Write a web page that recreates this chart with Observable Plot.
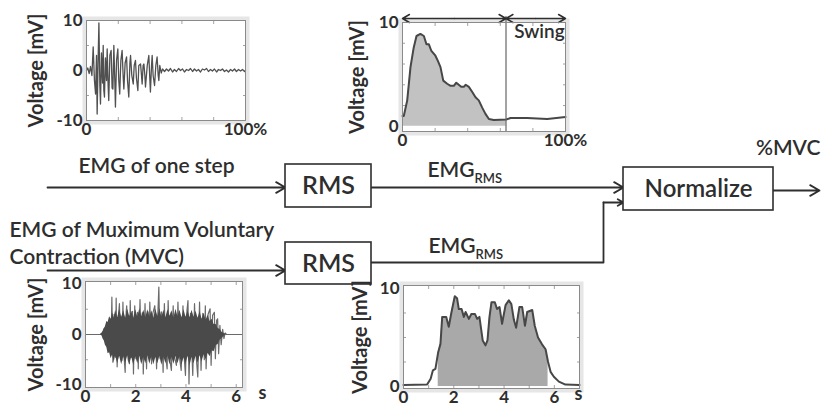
<!DOCTYPE html>
<html><head><meta charset="utf-8">
<script src="https://cdn.jsdelivr.net/npm/d3@7"></script>
<script src="https://cdn.jsdelivr.net/npm/@observablehq/plot@0.6"></script>
<style>
body{margin:0;background:#fff;}
#wrap{position:relative;width:821px;height:410px;overflow:hidden;background:#fff;}
#wrap svg{position:absolute;left:0;top:0;overflow:visible;background:transparent;font-family:Lato,"Open Sans",sans-serif;font-weight:700;color:#2b2b2b;}
</style></head><body><div id="wrap"></div>
<script>
// ---------- DATA ----------
// Raw EMG of one step: [gait cycle %, mV]
const stepEmg = [[0,0],[0.8,0.5],[1.7,-0.6],[2.5,0.8],[3.4,-1.0],[4.2,4.7],[5.0,-2.0],[5.7,-4.7],[6.3,3.0],[6.7,-8.7],[7.3,2.0],[7.8,9.5],[8.4,-3.0],[8.8,-6.7],[9.4,3.5],[10.1,-2.5],[10.5,5.0],[10.9,-4.0],[11.3,-5.3],[11.9,2.5],[12.6,-2.0],[13.0,4.3],[13.6,-3.0],[14.0,-6.0],[14.7,3.0],[15.5,4.0],[16.1,-3.5],[16.6,-3.7],[17.2,5.0],[17.8,-2.0],[18.2,-7.3],[18.9,2.0],[19.7,4.3],[20.3,-2.0],[20.9,-4.7],[21.6,2.0],[22.4,4.0],[23.1,-1.5],[23.5,-3.7],[24.3,1.5],[25.2,2.7],[25.8,-2.0],[26.6,-5.3],[27.3,1.5],[27.7,3.0],[28.5,-1.0],[29.4,-2.7],[30.0,1.0],[30.8,2.0],[31.4,-1.5],[32.3,-4.0],[32.9,1.0],[34.0,1.3],[34.6,-1.0],[35.0,-2.7],[35.6,1.0],[36.1,1.3],[36.7,-1.0],[37.1,-3.3],[38.2,1.0],[39.2,3.0],[39.8,-1.5],[40.2,-4.3],[40.9,1.0],[41.3,3.0],[41.9,-1.0],[42.8,-3.0],[43.6,1.0],[44.4,2.7],[45.1,-1.0],[45.5,-2.0],[46.1,1.0],[47.0,-0.5],[47.8,0.3],[49.1,-0.2],[50.3,0.3],[51.6,-0.1],[52.8,0.4],[54.1,-0.3],[55.3,0.2],[56.6,-0.2],[57.9,0.4],[59.1,0.0],[60.4,0.3],[61.6,-0.3],[62.9,0.2],[64.2,0.0],[65.4,0.4],[66.7,-0.2],[67.9,0.3],[69.2,-0.1],[70.4,0.2],[71.7,-0.3],[72.9,0.3],[74.2,0.1],[75.5,0.4],[76.7,-0.2],[78.0,0.2],[79.2,-0.1],[80.5,0.3],[81.8,-0.3],[83.0,0.2],[84.3,0.0],[85.5,0.3],[86.8,-0.2],[88.0,0.1],[89.3,-0.3],[90.6,0.2],[91.8,-0.1],[93.1,0.3],[94.3,-0.2],[95.6,0.2],[96.9,-0.1],[98.1,0.2],[99.4,-0.2],[100,0]];

// RMS EMG of one step: [gait cycle %, mV]
const stepRms = [[0,1.0],[0.8,1.0],[2.9,2.5],[4.9,5.7],[6.9,7.6],[8.6,8.7],[11.0,8.9],[13.1,8.7],[14.7,7.9],[16.2,7.9],[17.6,7.3],[20.2,6.8],[21.7,6.3],[23.3,5.7],[25.0,4.4],[27.4,4.1],[29.5,3.9],[31.5,3.9],[33.0,4.2],[34.5,4.0],[36.0,3.8],[37.6,3.8],[38.8,4.0],[40.7,3.8],[42.8,3.3],[44.8,2.8],[46.8,2.5],[48.9,1.8],[50.9,1.2],[53.0,0.7],[56.0,0.6],[63.6,0.65],[66.3,0.8],[76.5,0.8],[88.8,0.7],[100,0.9]];
const stanceEnd = 63.5;

// Raw EMG of MVC: dense burst envelope [s, low mV, high mV] and spikes [s, mV]
const mvcCore = [[0.59,0,0],[0.66,-0.3,0.3],[0.70,-0.9,0.6],[0.75,-1.3,1.2],[0.79,-2.1,1.5],[0.85,-2.6,2.6],[0.90,-3.8,2.4],[0.96,-3.6,3.5],[1.02,-4.8,3.0],[1.08,-4.0,4.3],[1.14,-5.6,3.2],[1.20,-4.2,4.8],[1.28,-5.8,3.3],[1.36,-4.3,4.9],[1.44,-6.0,3.4],[1.52,-4.4,4.7],[1.60,-5.7,3.2],[1.68,-4.2,5.0],[1.76,-5.9,3.5],[1.84,-4.5,4.6],[1.92,-6.1,3.2],[2.00,-4.4,4.9],[2.08,-5.8,3.4],[2.16,-4.3,5.1],[2.24,-6.0,3.5],[2.32,-4.5,4.8],[2.40,-5.8,3.3],[2.48,-4.2,4.9],[2.56,-5.9,3.5],[2.64,-4.4,4.7],[2.72,-6.0,3.2],[2.80,-4.5,5.0],[2.88,-5.8,3.5],[2.96,-4.3,5.1],[3.04,-6.1,3.4],[3.12,-4.4,4.8],[3.20,-5.8,3.3],[3.28,-4.2,4.9],[3.36,-6.0,3.6],[3.44,-4.5,4.7],[3.52,-5.9,3.2],[3.60,-4.3,5.0],[3.68,-5.8,3.5],[3.76,-4.4,4.8],[3.84,-6.1,3.3],[3.92,-4.6,4.9],[4.00,-5.9,3.4],[4.08,-4.3,4.7],[4.16,-6.2,3.3],[4.24,-4.5,4.8],[4.32,-5.8,3.4],[4.40,-4.3,4.6],[4.48,-5.7,3.2],[4.56,-4.2,4.5],[4.64,-5.4,3.0],[4.72,-4.0,4.2],[4.80,-5.0,2.8],[4.88,-3.7,3.8],[4.96,-4.4,2.6],[5.04,-3.2,3.0],[5.12,-3.4,2.0],[5.20,-2.2,2.0],[5.28,-2.0,1.2],[5.36,-1.1,1.0],[5.44,-0.8,0.4],[5.52,-0.3,0.2],[5.62,0,0]];
const mvcRaw = [[0,0],[0.59,0],[0.66,0],[0.75,1.2],[0.80,-1.5],[0.85,2.2],[0.91,-3.0],[0.96,3.0],[1.01,-4.0],[1.05,7.4],[1.09,-5.5],[1.14,4.0],[1.20,-4.5],[1.22,7.2],[1.26,-6.4],[1.32,4.2],[1.35,6.1],[1.41,-4.5],[1.45,-5.2],[1.49,6.4],[1.53,-4.0],[1.58,-7.5],[1.62,4.5],[1.64,5.7],[1.70,-5.0],[1.75,-5.8],[1.78,6.7],[1.83,-4.5],[1.87,4.6],[1.91,-7.8],[1.96,5.7],[2.01,-4.8],[2.07,4.4],[2.10,-6.8],[2.17,6.9],[2.22,-4.6],[2.26,4.3],[2.30,-7.8],[2.37,6.1],[2.43,-6.8],[2.49,4.5],[2.52,-4.4],[2.56,6.4],[2.63,-5.8],[2.68,4.2],[2.76,5.7],[2.83,-6.8],[2.88,4.0],[2.92,9.4],[2.97,-4.8],[3.02,4.5],[3.09,-7.5],[3.14,6.1],[3.20,-4.6],[3.25,-6.8],[3.29,6.7],[3.35,-4.7],[3.42,-7.1],[3.49,5.7],[3.55,-4.6],[3.62,-6.1],[3.68,6.4],[3.75,-4.8],[3.81,-7.1],[3.88,5.7],[3.93,-4.5],[3.98,-8.1],[4.04,4.8],[4.08,6.7],[4.12,-9.8],[4.18,4.2],[4.27,-8.1],[4.34,6.1],[4.41,-4.6],[4.47,-8.4],[4.54,6.4],[4.60,-7.1],[4.67,4.2],[4.73,-5.0],[4.77,5.7],[4.80,-6.8],[4.88,4.0],[4.96,5.1],[5.00,-6.1],[5.06,3.8],[5.13,4.4],[5.17,-4.8],[5.22,2.8],[5.26,3.1],[5.30,-3.8],[5.35,1.8],[5.40,-2.0],[5.46,1.0],[5.51,-0.8],[5.56,0.3],[5.61,0],[6.25,0]];

// RMS EMG of MVC: [s, mV]
const mvcRms = [[0,0.15],[0.94,0.2],[1.08,0.8],[1.17,1.65],[1.27,1.8],[1.38,3.5],[1.47,4.35],[1.54,7.1],[1.70,7.1],[1.80,6.1],[1.91,7.6],[2.04,9.2],[2.13,9.0],[2.20,7.9],[2.31,7.9],[2.40,7.1],[2.47,7.6],[2.60,6.9],[2.70,7.4],[2.84,7.4],[2.93,6.9],[3.02,7.1],[3.15,4.7],[3.26,4.2],[3.34,4.7],[3.42,7.1],[3.50,8.6],[3.63,8.6],[3.72,7.9],[3.82,8.1],[3.92,6.4],[4.06,8.3],[4.19,8.8],[4.29,8.4],[4.39,6.8],[4.48,6.0],[4.61,8.1],[4.72,8.1],[4.83,6.2],[4.92,7.6],[5.12,7.8],[5.22,6.2],[5.35,5.0],[5.51,4.3],[5.65,3.8],[5.75,2.5],[5.85,1.5],[5.98,1.0],[6.18,0.5],[6.44,0.2],[7.0,0.15]];

// Tick labels
const pctTicks = [0, 100];
const secTicks = [0, 2, 4, 6];
const mvTicksRaw = [-10, 0, 10];
const mvTicksRms = [0, 10];
const yLabel = "Voltage [mV]";

// Diagram texts
const boxLabels = ["RMS", "RMS", "Normalize"];
const centerLabels = ["EMG of one step"];
const leftLabels = ["EMG of Muximum Voluntary", "Contraction (MVC)"];
const rightLabels = ["%MVC"];
const rmsLabel = "EMG_RMS";

// ---------- LAYOUT (page pixels) ----------
const W = 821, H = 410;
const boxPos = [
  {x1:285, x2:371, y1:164, y2:207, size:25},
  {x1:285, x2:371, y1:242, y2:284, size:25},
  {x1:623, x2:773, y1:167, y2:210, size:24}
];
const arrowPos = [
  {x1:47, y1:187, x2:285, y2:187},
  {x1:371, y1:187, x2:623, y2:187},
  {x1:47, y1:270, x2:285, y2:270},
  {x1:603, y1:202, x2:623, y2:202},
  {x1:773, y1:190, x2:819, y2:190}
];
const elbowPos = [[371,262],[603,262],[603,202]];
const centerPos = [{x:156, y:166}];
const leftPos = [{x:9, y:230}, {x:9, y:257}];
const rightPos = [{x:820, y:148}];
const rmsLabelPos = [{x:427, y:170}, {x:428, y:246}];

const wrap = document.getElementById("wrap");
const ink = "#2e2e2e";
const withPos = (labels, pos) => labels.map((label, i) => ({label, ...pos[i]}));

// ---------- Diagram ----------
const boxes = withPos(boxLabels, boxPos);
const txt = {fontSize: 21, fill: ink, fontWeight: 600};
const diagram = Plot.plot({
  width: W, height: H, margin: 0,
  x: {domain: [0, W], range: [0, W], axis: null},
  y: {domain: [0, H], range: [0, H], axis: null},
  marks: [
    Plot.line(elbowPos, {x: d => d[0], y: d => d[1], stroke: ink, strokeWidth: 1.8}),
    Plot.arrow(arrowPos, {x1: "x1", y1: "y1", x2: "x2", y2: "y2", stroke: ink, strokeWidth: 1.8, headLength: 9}),
    Plot.rect(boxes, {x1: "x1", x2: "x2", y1: "y1", y2: "y2", fill: "white", stroke: ink, strokeWidth: 1.6}),
    Plot.text(boxes, {x: d => (d.x1 + d.x2) / 2, y: d => (d.y1 + d.y2) / 2, text: "label", fontSize: d => d.size, fill: ink, fontWeight: 600}),
    Plot.text(withPos(centerLabels, centerPos), {x: "x", y: "y", text: "label", textAnchor: "middle", ...txt}),
    Plot.text(withPos(leftLabels, leftPos), {x: "x", y: "y", text: "label", textAnchor: "start", ...txt}),
    Plot.text(withPos(rightLabels, rightPos), {x: "x", y: "y", text: "label", textAnchor: "end", ...txt}),
    Plot.text(rmsLabelPos, {x: "x", y: "y", text: () => rmsLabel, textAnchor: "start", ...txt})
  ]
});
wrap.appendChild(diagram);
d3.select(diagram).selectAll("text").each(function() {
  if (this.textContent === rmsLabel) {
    this.innerHTML = 'EMG<tspan font-size="13" dy="6">RMS</tspan>';
  }
});

// ---------- Panels ----------
function panel(o) {
  const [L, T, R, B] = o.frame;
  const minor = {tickSize: -3, tickFormat: () => "", label: null, stroke: "#8a8a8a", strokeWidth: 0.8};
  return Plot.plot({
    width: W, height: H,
    marginLeft: L, marginTop: T, marginRight: W - R, marginBottom: H - B,
    x: {domain: o.xDomain}, y: {domain: o.yDomain},
    marks: [
      Plot.frame({stroke: "#e6e6e6", strokeWidth: 4, inset: -2}),
      Plot.frame({fill: "white"}),
      ...o.marks,
      Plot.axisX(o.xMinor, {anchor: "bottom", ...minor}),
      Plot.axisX(o.xMinor, {anchor: "top", ...minor}),
      Plot.axisY(o.yMinor, {anchor: "left", ...minor}),
      Plot.axisY(o.yMinor, {anchor: "right", ...minor}),
      Plot.frame({stroke: "#8a8a8a", strokeWidth: 1}),
      Plot.axisX(o.xTicks, {anchor: "bottom", tickSize: 0, tickPadding: o.xPad, tickFormat: o.xFmt, fontSize: 17, fontWeight: 700, fill: ink, label: null}),
      Plot.axisY(o.yTicks, {anchor: "left", tickSize: 0, tickPadding: 4, tickFormat: d => String(d), fontSize: 17, fontWeight: 700, fill: ink, label: null}),
      Plot.text([yLabel], {text: d => d, frameAnchor: "left", textAnchor: "middle", rotate: -90, dx: o.yLabelDx, fontSize: 20, fontWeight: 700, fill: ink}),
      ...(o.unit ? [Plot.text([o.unit], {text: d => d, frameAnchor: "bottom-right", textAnchor: "middle", dx: o.unitDx, dy: 11, fontSize: 18, fontWeight: 700, fill: ink})] : [])
    ]
  });
}
const pctFmt = d => d === 100 ? "100%" : String(d);

// Panel 1: raw EMG of one step
wrap.appendChild(panel({
  frame: [86, 20, 245, 120], xDomain: [0, 100], yDomain: [-10, 10],
  xTicks: pctTicks, xFmt: pctFmt, xPad: 2, yTicks: mvTicksRaw, yLabelDx: -50,
  xMinor: d3.range(0, 101, 20), yMinor: [-5, 5],
  marks: [Plot.line(stepEmg, {x: d => d[0], y: d => d[1], stroke: "#505050", strokeWidth: 1.3})]
}));

// Panel 2: RMS of one step
const half1 = stanceEnd / 2, half2 = (stanceEnd + 100) / 2;
wrap.appendChild(panel({
  frame: [402, 22, 565, 131], xDomain: [0, 100], yDomain: [-0.5, 10],
  xTicks: pctTicks, xFmt: pctFmt, xPad: 2, yTicks: mvTicksRms, yLabelDx: -45,
  xMinor: d3.range(0, 101, 20), yMinor: [2, 4, 6, 8],
  marks: [
    Plot.areaY(stepRms, {filter: d => d[0] <= stanceEnd + 0.2, x: d => d[0], y: d => d[1], fill: "#c2c2c2"}),
    Plot.line(stepRms, {x: d => d[0], y: d => d[1], stroke: "#474747", strokeWidth: 2}),
    Plot.ruleX([stanceEnd], {stroke: "#666", strokeWidth: 1.2, insetTop: -6}),
    Plot.arrow([[half1, 0], [half1, stanceEnd], [half2, stanceEnd], [half2, 100]], {x1: d => d[0], x2: d => d[1], y1: 10, y2: 10, dy: -4, stroke: ink, strokeWidth: 1.5, headLength: 8}),
    Plot.text(["Swing"], {text: d => d, x: 84, y: 9.05, fontSize: 19, fontWeight: 600, fill: ink})
  ]
}));

// Panel 3: raw EMG of MVC
wrap.appendChild(panel({
  frame: [85, 281, 242, 387], xDomain: [0, 6.25], yDomain: [-10.5, 10.5],
  xTicks: secTicks, xFmt: d => String(d), xPad: 2, yTicks: mvTicksRaw, yLabelDx: -49,
  xMinor: d3.range(0, 7, 1), yMinor: [-5, 5], unit: "s", unitDx: 20,
  marks: [
    Plot.line(mvcRaw, {x: d => d[0], y: d => d[1], stroke: "#6a6a6a", strokeWidth: 1.2}),
    Plot.areaY(mvcCore, {x: d => d[0], y1: d => d[1], y2: d => d[2], fill: "#4a4a4a"})
  ]
}));

// Panel 4: RMS of MVC
wrap.appendChild(panel({
  frame: [403, 285, 579, 388], xDomain: [0, 7], yDomain: [-0.2, 10.3],
  xTicks: secTicks, xFmt: d => String(d), xPad: 2, yTicks: mvTicksRms, yLabelDx: -43,
  xMinor: d3.range(0, 8, 1), yMinor: [2.5, 5, 7.5], unit: "s", unitDx: -1,
  marks: [
    Plot.areaY(mvcRms, {filter: d => d[0] >= 1.38 && d[0] <= 5.75, x: d => d[0], y: d => d[1], fill: "#a9a9a9"}),
    Plot.line(mvcRms, {x: d => d[0], y: d => d[1], stroke: "#474747", strokeWidth: 2})
  ]
}));
</script></body></html>
